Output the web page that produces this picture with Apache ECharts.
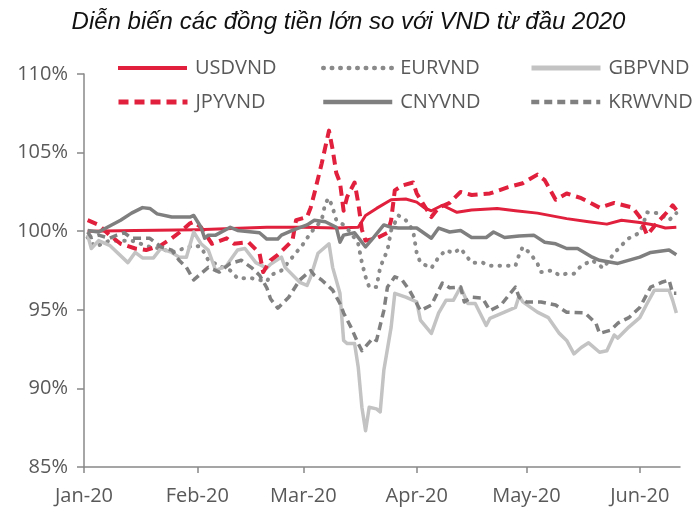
<!DOCTYPE html>
<html>
<head>
<meta charset="utf-8">
<script src="https://cdn.jsdelivr.net/npm/echarts@6/dist/echarts.min.js"></script>
<style>html,body{margin:0;padding:0;background:#fff}#c{width:697px;height:515px}</style>
</head>
<body>
<div id="c"></div>
<script>
const monthLabels = ['Jan-20','Feb-20','Mar-20','Apr-20','May-20','Jun-20'];
const yTicks = [85, 90, 95, 100, 105, 110];

const USDVND = [['2020-01-02',100.0],['2020-01-15',100.05],['2020-02-01',100.1],['2020-02-20',100.25],['2020-03-01',100.25],['2020-03-10',100.2],['2020-03-16',100.25],['2020-03-18',101.0],['2020-03-21',101.45],['2020-03-25',102.0],['2020-03-29',102.05],['2020-04-01',101.85],['2020-04-03',101.5],['2020-04-05',101.3],['2020-04-08',101.65],['2020-04-12',101.2],['2020-04-16',101.35],['2020-04-23',101.45],['2020-04-28',101.3],['2020-05-04',101.15],['2020-05-12',100.8],['2020-05-18',100.6],['2020-05-23',100.45],['2020-05-27',100.7],['2020-06-01',100.55],['2020-06-05',100.4],['2020-06-08',100.2],['2020-06-11',100.25]];

const EURVND = [['2020-01-02',99.6],['2020-01-04',99.0],['2020-01-08',99.4],['2020-01-14',99.4],['2020-01-19',99.0],['2020-01-22',98.9],['2020-01-25',98.65],['2020-01-31',99.1],['2020-02-02',99.0],['2020-02-04',98.15],['2020-02-08',97.7],['2020-02-10',97.5],['2020-02-12',97.0],['2020-02-16',97.0],['2020-02-20',96.8],['2020-02-21',97.2],['2020-02-24',97.5],['2020-02-27',98.35],['2020-03-01',99.2],['2020-03-03',99.9],['2020-03-06',100.7],['2020-03-07',101.8],['2020-03-08',102.1],['2020-03-09',101.5],['2020-03-10',100.7],['2020-03-12',100.4],['2020-03-14',99.9],['2020-03-16',99.2],['2020-03-17',98.0],['2020-03-18',97.1],['2020-03-19',96.45],['2020-03-21',96.45],['2020-03-22',97.7],['2020-03-24',98.8],['2020-03-25',100.05],['2020-03-27',101.0],['2020-03-29',100.7],['2020-03-31',100.05],['2020-04-01',98.6],['2020-04-02',98.0],['2020-04-05',97.65],['2020-04-07',98.35],['2020-04-09',98.8],['2020-04-11',98.6],['2020-04-13',98.9],['2020-04-15',98.3],['2020-04-16',98.0],['2020-04-19',98.0],['2020-04-21',97.8],['2020-04-25',97.8],['2020-04-28',97.8],['2020-04-29',98.5],['2020-04-30',99.0],['2020-05-02',98.6],['2020-05-04',97.95],['2020-05-05',97.4],['2020-05-08',97.5],['2020-05-10',97.2],['2020-05-12',97.3],['2020-05-14',97.3],['2020-05-16',97.8],['2020-05-19',98.15],['2020-05-22',97.65],['2020-05-25',98.6],['2020-05-27',99.1],['2020-05-29',99.55],['2020-06-01',99.9],['2020-06-02',100.5],['2020-06-03',101.2],['2020-06-06',101.15],['2020-06-09',100.7],['2020-06-11',101.15]];

const GBPVND = [['2020-01-02',99.75],['2020-01-03',98.9],['2020-01-05',99.4],['2020-01-08',99.1],['2020-01-13',98.0],['2020-01-15',98.65],['2020-01-17',98.3],['2020-01-20',98.3],['2020-01-22',98.9],['2020-01-25',98.65],['2020-01-27',98.35],['2020-01-29',98.35],['2020-01-31',99.95],['2020-02-02',99.2],['2020-02-04',98.8],['2020-02-05',98.15],['2020-02-06',97.5],['2020-02-09',97.8],['2020-02-10',98.15],['2020-02-12',98.8],['2020-02-14',98.9],['2020-02-17',98.0],['2020-02-20',97.65],['2020-02-21',97.9],['2020-02-24',98.35],['2020-02-25',97.7],['2020-02-29',96.75],['2020-03-02',96.55],['2020-03-03',97.1],['2020-03-05',98.6],['2020-03-08',99.2],['2020-03-09',97.7],['2020-03-11',96.05],['2020-03-12',93.05],['2020-03-13',92.85],['2020-03-15',92.85],['2020-03-16',91.35],['2020-03-17',88.8],['2020-03-18',87.3],['2020-03-19',88.8],['2020-03-21',88.7],['2020-03-22',88.5],['2020-03-23',91.15],['2020-03-25',93.9],['2020-03-26',96.05],['2020-03-29',95.8],['2020-04-01',95.5],['2020-04-02',94.35],['2020-04-05',93.5],['2020-04-07',94.8],['2020-04-09',95.6],['2020-04-11',95.6],['2020-04-13',96.45],['2020-04-15',95.4],['2020-04-17',95.4],['2020-04-20',94.0],['2020-04-21',94.45],['2020-04-25',94.85],['2020-04-28',95.15],['2020-04-29',95.9],['2020-04-30',95.5],['2020-05-04',94.85],['2020-05-07',94.5],['2020-05-10',93.5],['2020-05-12',93.05],['2020-05-14',92.2],['2020-05-16',92.6],['2020-05-18',92.9],['2020-05-21',92.3],['2020-05-23',92.4],['2020-05-25',93.4],['2020-05-26',93.2],['2020-05-29',93.9],['2020-06-01',94.5],['2020-06-03',95.4],['2020-06-05',96.25],['2020-06-09',96.25],['2020-06-10',95.6],['2020-06-11',94.8]];

const JPYVND = [['2020-01-02',100.7],['2020-01-05',100.4],['2020-01-08',99.75],['2020-01-11',99.2],['2020-01-15',98.9],['2020-01-18',98.8],['2020-01-22',99.1],['2020-01-25',99.55],['2020-01-27',99.9],['2020-01-30',100.5],['2020-01-31',100.6],['2020-02-02',100.25],['2020-02-05',99.2],['2020-02-09',99.55],['2020-02-11',99.2],['2020-02-15',99.3],['2020-02-18',98.6],['2020-02-19',97.4],['2020-02-21',98.15],['2020-02-23',98.5],['2020-02-27',99.4],['2020-02-28',100.7],['2020-03-02',100.9],['2020-03-03',101.5],['2020-03-04',102.4],['2020-03-06',104.3],['2020-03-08',106.4],['2020-03-09',105.2],['2020-03-10',103.7],['2020-03-11',103.1],['2020-03-12',101.3],['2020-03-13',102.2],['2020-03-15',103.1],['2020-03-16',101.8],['2020-03-17',100.1],['2020-03-18',99.4],['2020-03-21',99.55],['2020-03-24',99.9],['2020-03-25',100.7],['2020-03-26',102.6],['2020-03-28',102.9],['2020-03-31',103.1],['2020-04-01',102.4],['2020-04-05',100.9],['2020-04-07',101.5],['2020-04-10',101.8],['2020-04-13',102.5],['2020-04-16',102.3],['2020-04-21',102.4],['2020-04-26',102.8],['2020-04-30',103.05],['2020-05-04',103.6],['2020-05-06',103.25],['2020-05-09',102.0],['2020-05-12',102.4],['2020-05-16',102.1],['2020-05-21',101.5],['2020-05-25',101.8],['2020-05-30',101.5],['2020-06-01',100.9],['2020-06-03',99.75],['2020-06-06',100.6],['2020-06-09',101.35],['2020-06-10',101.65],['2020-06-11',101.35]];

const CNYVND = [['2020-01-02',100.05],['2020-01-05',99.95],['2020-01-07',100.2],['2020-01-11',100.7],['2020-01-14',101.15],['2020-01-17',101.5],['2020-01-19',101.45],['2020-01-21',101.1],['2020-01-25',100.9],['2020-01-30',100.9],['2020-01-31',101.0],['2020-02-02',100.25],['2020-02-03',99.55],['2020-02-04',99.75],['2020-02-06',99.75],['2020-02-10',100.25],['2020-02-12',100.05],['2020-02-18',99.9],['2020-02-20',99.5],['2020-02-23',99.5],['2020-02-24',99.75],['2020-02-27',100.05],['2020-03-02',100.4],['2020-03-04',100.7],['2020-03-07',100.6],['2020-03-10',100.25],['2020-03-11',99.3],['2020-03-12',99.75],['2020-03-15',99.9],['2020-03-18',99.0],['2020-03-20',99.55],['2020-03-23',100.4],['2020-03-25',100.25],['2020-03-27',100.2],['2020-04-01',100.2],['2020-04-05',99.55],['2020-04-07',100.2],['2020-04-10',99.95],['2020-04-13',100.05],['2020-04-16',99.6],['2020-04-20',99.6],['2020-04-22',99.95],['2020-04-25',99.6],['2020-04-29',99.7],['2020-05-03',99.75],['2020-05-06',99.3],['2020-05-09',99.2],['2020-05-12',98.9],['2020-05-15',98.9],['2020-05-19',98.35],['2020-05-21',98.15],['2020-05-26',97.95],['2020-06-01',98.35],['2020-06-04',98.65],['2020-06-09',98.8],['2020-06-11',98.5]];

const KRWVND = [['2020-01-02',99.95],['2020-01-03',99.6],['2020-01-05',99.75],['2020-01-08',99.55],['2020-01-10',99.75],['2020-01-12',99.9],['2020-01-14',99.55],['2020-01-19',99.55],['2020-01-22',99.0],['2020-01-25',98.8],['2020-01-27',98.15],['2020-01-29',97.7],['2020-01-31',96.9],['2020-02-02',97.3],['2020-02-04',97.7],['2020-02-07',97.4],['2020-02-10',97.95],['2020-02-13',98.15],['2020-02-16',97.65],['2020-02-18',97.2],['2020-02-20',96.4],['2020-02-21',95.7],['2020-02-23',95.1],['2020-02-26',95.8],['2020-02-29',96.9],['2020-03-03',97.5],['2020-03-04',97.2],['2020-03-06',96.9],['2020-03-09',96.25],['2020-03-11',95.4],['2020-03-12',94.8],['2020-03-14',93.9],['2020-03-16',92.85],['2020-03-17',92.4],['2020-03-20',93.2],['2020-03-21',93.05],['2020-03-23',94.95],['2020-03-24',96.45],['2020-03-26',97.1],['2020-03-28',96.9],['2020-03-30',96.25],['2020-04-01',95.4],['2020-04-02',94.95],['2020-04-05',95.3],['2020-04-08',96.7],['2020-04-10',96.4],['2020-04-13',96.45],['2020-04-14',95.5],['2020-04-16',95.8],['2020-04-19',95.75],['2020-04-21',94.95],['2020-04-24',95.3],['2020-04-28',96.45],['2020-04-29',95.8],['2020-05-01',95.5],['2020-05-05',95.5],['2020-05-09',95.3],['2020-05-12',94.85],['2020-05-17',94.8],['2020-05-20',94.15],['2020-05-21',93.5],['2020-05-24',93.7],['2020-05-26',94.15],['2020-05-29',94.5],['2020-06-01',95.15],['2020-06-04',96.45],['2020-06-07',96.75],['2020-06-09',96.9],['2020-06-10',96.05],['2020-06-11',96.05]];

const RED = '#e0203c';
const seriesDefs = [
  {name:'USDVND', data:USDVND, color:RED, width:3, type:'solid', lw:4},
  {name:'EURVND', data:EURVND, color:'#8a8a8a', width:4, type:[0.5, 8], cap:'round', lw:4.5},
  {name:'GBPVND', data:GBPVND, color:'#c3c3c3', width:3.5, type:'solid', lw:5},
  {name:'JPYVND', data:JPYVND, color:RED, width:4, type:[10, 6], lw:5},
  {name:'CNYVND', data:CNYVND, color:'#7f7f7f', width:3.5, type:'solid', lw:4.5},
  {name:'KRWVND', data:KRWVND, color:'#808080', width:3.5, type:[8, 5], lw:4.5}
];
const legendPos = [[116,58],[321,58],[529,58],[116,92],[321,92],[529,92]];
const FONT = 'Open Sans';

const chart = echarts.init(document.getElementById('c'), null, {renderer:'canvas'});
chart.setOption({
  animation:false,
  backgroundColor:'#fff',
  title:{text:'Diễn biến các đồng tiền lớn so với VND từ đầu 2020', left:'center', top:5,
    textStyle:{fontFamily:'Liberation Sans', fontStyle:'italic', fontWeight:'normal', fontSize:24, color:'#111'}},
  legend: seriesDefs.map((s,i)=>({
    data:[s.name], left:legendPos[i][0], top:legendPos[i][1], padding:0,
    itemWidth:69, itemHeight:20, itemGap:0,
    itemStyle:{opacity:0},
    lineStyle:{width:s.lw, color:s.color, type:s.type, cap:s.cap||'butt'},
    textStyle:{fontFamily:FONT, fontSize:20, color:'#595959', padding:[0,0,0,3]}
  })),
  grid:{left:84, right:17, top:74, bottom:48},
  xAxis:{type:'time', min:'2020-01-01', max:'2020-06-12', minInterval:28*86400000, splitNumber:5,
    axisLine:{lineStyle:{color:'#888', width:1.5}},
    axisTick:{show:true, length:6, lineStyle:{color:'#888', width:1.5}},
    splitLine:{show:false},
    axisLabel:{showMaxLabel:false, margin:19, fontFamily:FONT, fontSize:20, color:'#595959',
      formatter:(v)=>monthLabels[new Date(v).getMonth()]}
  },
  yAxis:{type:'value', min:yTicks[0], max:yTicks[yTicks.length-1], interval:5,
    axisLine:{show:true, lineStyle:{color:'#888', width:1.5}},
    axisTick:{show:true, length:7, lineStyle:{color:'#888', width:1.5}},
    splitLine:{show:false},
    axisLabel:{margin:16, fontFamily:FONT, fontSize:20, color:'#595959', formatter:'{value}%'}
  },
  series: seriesDefs.map(s=>({
    name:s.name, type:'line', data:s.data, showSymbol:false, symbol:'none', smooth:false,
    color:s.color,
    lineStyle:{color:s.color, width:s.width, type:s.type, cap:s.cap||'butt', join:'round'},
    emphasis:{disabled:true}
  }))
});
</script>
</body>
</html>
